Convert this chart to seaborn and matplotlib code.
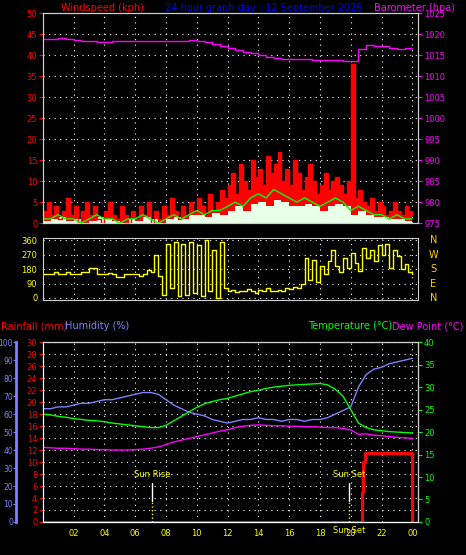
"""24 hour weather station graph (wind, direction, rain/humidity/temperature)."""

import matplotlib

matplotlib.use("Agg")
import matplotlib.pyplot as plt
import numpy as np
import pandas as pd
import seaborn as sns

# --- data -----------------------------------------------------------------
HOURS_Q = np.arange(97) * 0.25  # quarter-hour time base
HOURS_H = np.arange(49) * 0.5  # half-hour time base

WIND_GUST = [
    3, 5, 2, 4, 1, 3, 6, 2, 4, 0, 3, 5,
    2, 4, 1, 0, 3, 5, 2, 1, 4, 2, 0, 3,
    1, 4, 2, 5, 0, 3, 1, 4, 2, 6, 3, 1,
    4, 2, 5, 3, 6, 4, 2, 7, 3, 5, 8, 6,
    9, 12, 7, 14, 10, 8, 15, 11, 13, 9, 16, 12,
    14, 17, 10, 13, 9, 15, 12, 8, 11, 14, 10, 7,
    9, 12, 8, 10, 11, 9, 7, 10, 38, 6, 8, 5,
    4, 6, 3, 5, 4, 2, 3, 5, 3, 2, 4, 3, 2,
]
WIND_AVG = [
    1, 1, 2, 1, 1, 0, 1, 2, 1, 1, 0, 1,
    1, 2, 1, 0, 1, 2, 1, 2, 3, 2, 3, 3,
    4, 5, 4, 6, 7, 6, 8, 7, 6, 5, 6, 5,
    4, 5, 6, 5, 3, 4, 3, 2, 2, 1, 2, 1, 1,
]
WIND_SPEED = [
    0.5, 1, 1.5, 0.5, 1, 0, 0.5, 1.5, 1, 0.5, 0, 1,
    0.5, 1.5, 1, 0, 1, 1.5, 1, 2, 2, 1.5, 2.5, 2,
    3, 4, 3, 4.5, 5, 4, 5.5, 5, 4, 4, 4.5, 4,
    3, 4, 4.5, 4, 2, 3, 2, 1.5, 1.5, 1, 1, 0.5, 0.5,
]
BAROMETER = [
    1018.8, 1018.9, 1019.0, 1018.8, 1018.6, 1018.4, 1018.3, 1018.2, 1018.2, 1018.3, 1018.3, 1018.4,
    1018.4, 1018.4, 1018.3, 1018.4, 1018.5, 1018.5, 1018.5, 1018.6, 1018.4, 1018.2, 1017.8, 1017.2,
    1016.8, 1016.3, 1015.9, 1015.5, 1015.1, 1014.7, 1014.4, 1014.2, 1014.1, 1014.0, 1014.0, 1013.9,
    1013.9, 1013.8, 1013.8, 1013.7, 1013.6, 1016.5, 1017.4, 1017.1, 1017.3, 1016.8, 1016.4, 1016.7, 1016.8,
]
WIND_DIR = [
    150, 150, 150, 160, 150, 150, 160, 150, 150, 150, 165, 165,
    185, 185, 150, 150, 150, 155, 150, 130, 130, 150, 150, 150,
    150, 140, 150, 175, 160, 270, 140, 20, 340, 60, 350, 10,
    340, 20, 350, 30, 330, 10, 360, 40, 300, 0, 350, 60,
    40, 50, 35, 45, 40, 55, 40, 30, 50, 45, 60, 40,
    45, 50, 40, 60, 55, 70, 60, 90, 250, 110, 240, 100,
    200, 150, 230, 300, 200, 160, 250, 190, 280, 220, 170, 310,
    250, 300, 230, 330, 270, 340, 190, 300, 260, 180, 210, 160, 150,
]
HUMIDITY = [
    63, 63, 64, 64, 65, 66, 66, 67, 68, 68, 69, 70,
    71, 72, 72, 71, 68, 65, 63, 61, 60, 59, 57, 56,
    55, 56, 57, 57, 58, 57, 57, 56, 57, 57, 56, 57,
    57, 58, 60, 62, 64, 75, 82, 85, 86, 88, 89, 90, 91,
]
TEMPERATURE = [
    24, 23.8, 23.5, 23.3, 23, 22.8, 22.6, 22.5, 22.3, 22, 21.8, 21.6,
    21.4, 21.2, 21, 21, 21.5, 22.5, 23.5, 24.5, 25.5, 26.3, 26.8, 27.2,
    27.5, 28, 28.5, 29, 29.3, 29.7, 30, 30.2, 30.4, 30.5, 30.6, 30.7,
    30.8, 30.5, 29.5, 28, 25, 22, 21, 20.5, 20.3, 20.1, 20, 19.9, 19.8,
]
DEW_POINT = [
    16.6, 16.5, 16.4, 16.4, 16.3, 16.2, 16.2, 16.1, 16.1, 16, 16, 16,
    16.1, 16.2, 16.4, 16.7, 17.2, 17.8, 18.2, 18.6, 19, 19.4, 19.8, 20.2,
    20.5, 21, 21.3, 21.5, 21.6, 21.5, 21.4, 21.4, 21.3, 21.3, 21.2, 21.2,
    21.1, 21, 21, 20.8, 20.5, 19.5, 19.6, 19.3, 19.2, 19, 18.8, 18.7, 18.6,
]
RAIN_TIME = [0, 20.6, 20.7, 20.8, 20.9, 23.95, 24.0]
RAIN_MM = [0, 0, 5, 10, 11.5, 11.5, 0]

SUN_RISE = 7.1
SUN_SET = 19.9
X_TICKS = list(range(2, 25, 2))
X_LABELS = ["02", "04", "06", "08", "10", "12", "14", "16", "18", "20", "22", "00"]

# --- style ----------------------------------------------------------------
sns.set_style("dark")
plt.rcParams["font.family"] = ["DejaVu Sans"]
BG = "black"
RED, BLUE, MAGENTA, GREEN, YELLOW = "#ff0000", "#0000ff", "#ff00ff", "#00ff00", "#ffff00"
HUM = "#8080ff"
FS = 6
HFS = 7


def style_axis(ax, ylim, yticks, color):
    ax.set_facecolor(BG)
    ax.set_xlim(0, 24.4)
    ax.set_ylim(*ylim)
    ax.set_yticks(yticks)
    ax.set_xticks(X_TICKS)
    ax.tick_params(axis="y", colors=color, labelsize=FS, length=3, pad=1)
    ax.tick_params(axis="x", colors=YELLOW, labelsize=FS, length=3, pad=2)
    for s in ax.spines.values():
        s.set_color("#d0d0d0")
    ax.grid(True, color="white", linestyle=(0, (1, 4)), linewidth=0.8)
    ax.set_xlabel("")
    ax.set_ylabel("")


fig = plt.figure(figsize=(4.66, 5.55), dpi=100, facecolor=BG)

# --- top panel: wind speed + barometer -------------------------------------
ax1 = fig.add_axes([0.092, 0.598, 0.806, 0.378])
wq = pd.DataFrame({"t": HOURS_Q, "gust": WIND_GUST})
wh = pd.DataFrame({"t": HOURS_H, "avg": WIND_AVG, "spd": WIND_SPEED, "baro": BAROMETER})
ax1.fill_between(wq["t"], wq["gust"], step="post", color=RED, lw=0)
sns.lineplot(data=wq, x="t", y="gust", ax=ax1, color=RED, lw=1, drawstyle="steps-post", estimator=None)
ax1.fill_between(wh["t"], wh["spd"], step="post", color="#e8ffe8", lw=0)
sns.lineplot(data=wh, x="t", y="avg", ax=ax1, color=GREEN, lw=1, estimator=None)
style_axis(ax1, (0, 50), range(0, 51, 5), RED)
ax1.set_xticklabels([])
ax1b = ax1.twinx()
sns.lineplot(data=wh, x="t", y="baro", ax=ax1b, color=MAGENTA, lw=1, drawstyle="steps-post", estimator=None)
ax1b.set_ylim(975, 1025)
ax1b.set_yticks(range(975, 1026, 5))
ax1b.tick_params(axis="y", colors=MAGENTA, labelsize=FS, length=3, pad=1)
ax1b.set_ylabel("")
ax1b.grid(False)
for s in ax1b.spines.values():
    s.set_color("#d0d0d0")

fig.text(0.22, 0.995, "Windspeed (kph)", color=RED, fontsize=HFS, ha="center", va="top")
fig.text(0.565, 0.995, "24 hour graph day : 12 September 2026", color=BLUE, fontsize=HFS, ha="center", va="top")
fig.text(0.89, 0.995, "Barometer (hpa)", color=MAGENTA, fontsize=HFS, ha="center", va="top")

# --- middle panel: wind direction ------------------------------------------
ax2 = fig.add_axes([0.092, 0.459, 0.806, 0.112])
wd = pd.DataFrame({"t": HOURS_Q, "dir": WIND_DIR})
sns.lineplot(data=wd, x="t", y="dir", ax=ax2, color=YELLOW, lw=1, drawstyle="steps-post", estimator=None)
style_axis(ax2, (-15, 375), [0, 90, 180, 270, 360], YELLOW)
ax2.set_xticklabels([])
for lab, v in zip(["N", "W", "S", "E", "N"], [360, 270, 180, 90, 0]):
    ax2.text(1.04, (v + 15) / 390, lab, transform=ax2.transAxes, color="#ffcc00",
             fontsize=HFS, ha="center", va="center")

# --- bottom panel: rain, humidity, temperature, dew point -------------------
ax3 = fig.add_axes([0.092, 0.0595, 0.806, 0.324])
rn = pd.DataFrame({"t": RAIN_TIME, "rain": RAIN_MM})
sns.lineplot(data=rn, x="t", y="rain", ax=ax3, color=RED, lw=2.2, drawstyle="steps-post", estimator=None)
style_axis(ax3, (0, 30), range(0, 31, 2), RED)
ax3.set_xticklabels(X_LABELS)

for x, lab in [(SUN_RISE, "Sun Rise"), (SUN_SET, "Sun Set")]:
    ax3.plot([x, x], [3.5, 6.5], color="white", lw=1)
    ax3.plot([x, x], [0, 3.5], color=YELLOW, lw=1, linestyle=":")
    ax3.text(x, 7.2, lab, color=YELLOW, fontsize=FS, ha="center", va="bottom")
ax3.text(SUN_SET, -0.02, "Sun Set", transform=ax3.get_xaxis_transform(), color=YELLOW,
         fontsize=FS, ha="center", va="top")

ax3h = ax3.twinx()
ax3h.spines["left"].set_position(("outward", 19))
ax3h.yaxis.set_ticks_position("left")
ax3h.yaxis.set_label_position("left")
th = pd.DataFrame({"t": HOURS_H, "hum": HUMIDITY, "temp": TEMPERATURE, "dew": DEW_POINT})
sns.lineplot(data=th, x="t", y="hum", ax=ax3h, color=HUM, lw=1, estimator=None)
ax3h.set_ylim(0, 100)
ax3h.set_yticks(range(0, 101, 10))
ax3h.tick_params(axis="y", colors=HUM, labelsize=5.5, length=2, pad=0.5)
ax3h.spines["left"].set_color(HUM)
ax3h.spines["left"].set_linewidth(2)
ax3h.set_ylabel("")
ax3h.grid(False)

ax3t = ax3.twinx()
sns.lineplot(data=th, x="t", y="temp", ax=ax3t, color=GREEN, lw=1, estimator=None)
sns.lineplot(data=th, x="t", y="dew", ax=ax3t, color=MAGENTA, lw=1, estimator=None)
ax3t.set_ylim(0, 40)
ax3t.set_yticks(range(0, 41, 5))
ax3t.tick_params(axis="y", colors=GREEN, labelsize=FS, length=3, pad=1)
ax3t.set_ylabel("")
ax3t.grid(False)
for a in (ax3h, ax3t):
    a.spines["right"].set_color("#d0d0d0")
    a.spines["top"].set_color("#d0d0d0")

fig.text(0.003, 0.412, "Rainfall (mm)", color=RED, fontsize=HFS, va="center")
fig.text(0.14, 0.412, "Humidity (%)", color=HUM, fontsize=HFS, va="center")
fig.text(0.66, 0.412, "Temperature (\u00b0C)", color=GREEN, fontsize=HFS, va="center")
fig.text(0.842, 0.412, "Dew Point (\u00b0C)", color=MAGENTA, fontsize=HFS, va="center")

fig.savefig("out.png", dpi=100, facecolor=BG)
